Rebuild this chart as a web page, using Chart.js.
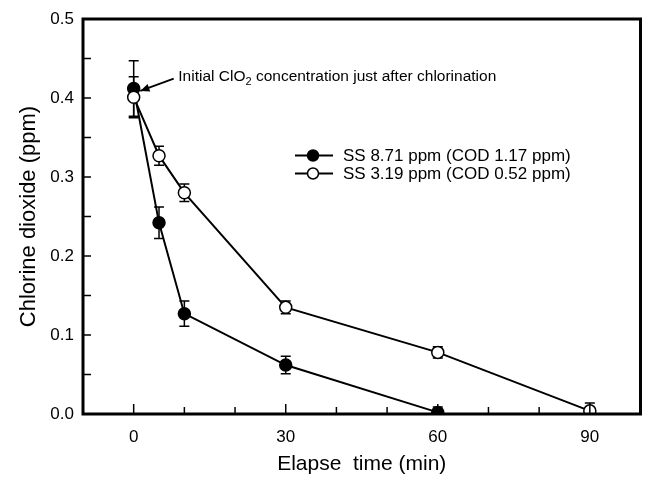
<!DOCTYPE html>
<html>
<head>
<meta charset="utf-8">
<script src="https://cdn.jsdelivr.net/npm/chart.js@4.4.0/dist/chart.umd.min.js"></script>
<style>
  html, body { margin: 0; padding: 0; background: #fff; }
  #wrap { width: 648px; height: 477px; }
</style>
</head>
<body>
<div id="wrap"><canvas id="chlorineChart"></canvas></div>
<script>
// values
const timeHighSS = [0, 5, 10, 30, 60];
const clo2HighSS = [0.412, 0.242, 0.127, 0.062, 0.002];
const errHighSS  = [0.035, 0.020, 0.016, 0.011, 0.007];

const timeLowSS = [0, 5, 10, 30, 60, 90];
const clo2LowSS = [0.401, 0.327, 0.280, 0.135, 0.078, 0.004];
const errLowSS  = [0.026, 0.012, 0.011, 0.008, 0.007, 0.010];

const seriesLabels = ['SS 8.71 ppm (COD 1.17 ppm)', 'SS 3.19 ppm (COD 0.52 ppm)'];
const xTickLabels = [0, 30, 60, 90];
const yTickLabels = [0.0, 0.1, 0.2, 0.3, 0.4, 0.5];

const FONT = "'Liberation Sans', Arial, sans-serif";

function toPoints(xs, ys) {
    return xs.map((x, i) => ({ x: x, y: ys[i] }));
}

// error bars, drawn under the markers
const errorBars = {
    id: 'errorBars',
    beforeDatasetsDraw(chart) {
        const { ctx, scales: { x, y } } = chart;
        const errs = [errHighSS, errLowSS];
        ctx.save();
        ctx.strokeStyle = '#000';
        ctx.lineWidth = 1.5;
        chart.data.datasets.forEach((ds, d) => {
            ds.data.forEach((p, i) => {
                const px = x.getPixelForValue(p.x);
                const top = y.getPixelForValue(p.y + errs[d][i]);
                const bot = y.getPixelForValue(Math.max(p.y - errs[d][i], 0));
                ctx.beginPath();
                ctx.moveTo(px, top); ctx.lineTo(px, bot);
                ctx.moveTo(px - 5, top); ctx.lineTo(px + 5, top);
                ctx.moveTo(px - 5, bot); ctx.lineTo(px + 5, bot);
                ctx.stroke();
            });
        });
        ctx.restore();
    }
};

// box frame with inward ticks
const frame = {
    id: 'frame',
    afterDraw(chart) {
        const { ctx, chartArea: a, scales: { x, y } } = chart;
        ctx.save();
        ctx.strokeStyle = '#000';
        ctx.lineWidth = 1.5;
        x.ticks.forEach(t => {
            const px = x.getPixelForValue(t.value);
            const len = xTickLabels.includes(t.value) ? 10 : 7;
            ctx.beginPath();
            ctx.moveTo(px, a.bottom); ctx.lineTo(px, a.bottom - len);
            ctx.stroke();
        });
        y.ticks.forEach(t => {
            const py = y.getPixelForValue(t.value);
            ctx.beginPath();
            ctx.moveTo(a.left, py); ctx.lineTo(a.left + 8, py);
            ctx.stroke();
        });
        ctx.lineWidth = 3;
        ctx.strokeRect(a.left, a.top, a.right - a.left, a.bottom - a.top);
        ctx.restore();
    }
};

// legend with line + marker, and the arrow note
const notes = {
    id: 'notes',
    afterDraw(chart) {
        const { ctx, scales: { x, y } } = chart;
        ctx.save();
        ctx.fillStyle = '#000';
        ctx.strokeStyle = '#000';

        // legend
        const lx = 295, ly = [155.5, 173.5];
        chart.data.datasets.forEach((ds, d) => {
            ctx.lineWidth = 2;
            ctx.beginPath();
            ctx.moveTo(lx, ly[d]); ctx.lineTo(lx + 38, ly[d]);
            ctx.stroke();
            ctx.beginPath();
            ctx.arc(lx + 18, ly[d], 5.5, 0, Math.PI * 2);
            ctx.fillStyle = ds.pointBackgroundColor;
            ctx.fill();
            ctx.lineWidth = 1.5;
            ctx.stroke();
            ctx.fillStyle = '#000';
            ctx.font = '17px ' + FONT;
            ctx.textBaseline = 'middle';
            ctx.fillText(ds.label, lx + 48, ly[d] + 1);
        });

        // annotation
        const tx = x.getPixelForValue(8.8), ty = y.getPixelForValue(0.427);
        ctx.font = '15.5px ' + FONT;
        ctx.textBaseline = 'middle';
        let s = 'Initial ClO';
        ctx.fillText(s, tx, ty);
        let w = ctx.measureText(s).width;
        ctx.font = '11px ' + FONT;
        ctx.fillText('2', tx + w, ty + 5);
        w += ctx.measureText('2').width;
        ctx.font = '15.5px ' + FONT;
        ctx.fillText(' concentration just after chlorination', tx + w, ty);

        const x0 = x.getPixelForValue(7.9), y0 = y.getPixelForValue(0.4245);
        const x1 = x.getPixelForValue(1.3), y1 = y.getPixelForValue(0.409);
        ctx.lineWidth = 1.8;
        ctx.beginPath();
        ctx.moveTo(x0, y0); ctx.lineTo(x1, y1);
        ctx.stroke();
        const ang = Math.atan2(y1 - y0, x1 - x0);
        ctx.beginPath();
        ctx.moveTo(x1, y1);
        ctx.lineTo(x1 - 10 * Math.cos(ang - 0.4), y1 - 10 * Math.sin(ang - 0.4));
        ctx.lineTo(x1 - 10 * Math.cos(ang + 0.4), y1 - 10 * Math.sin(ang + 0.4));
        ctx.closePath();
        ctx.fill();
        ctx.restore();
    }
};

new Chart(document.getElementById('chlorineChart'), {
    type: 'scatter',
    data: {
        datasets: [
            {
                label: seriesLabels[0],
                data: toPoints(timeHighSS, clo2HighSS),
                showLine: true,
                borderColor: '#000',
                borderWidth: 2,
                pointRadius: 6,
                pointBackgroundColor: '#000',
                pointBorderColor: '#000',
                pointBorderWidth: 1.5,
                order: 2
            },
            {
                label: seriesLabels[1],
                data: toPoints(timeLowSS, clo2LowSS),
                showLine: true,
                borderColor: '#000',
                borderWidth: 2,
                pointRadius: 6,
                pointBackgroundColor: '#fff',
                pointBorderColor: '#000',
                pointBorderWidth: 1.5,
                order: 1
            }
        ]
    },
    options: {
        responsive: true,
        maintainAspectRatio: false,
        animation: false,
        layout: { padding: { top: 19, right: -3, left: 16, bottom: 0 } },
        plugins: {
            legend: { display: false },
            tooltip: { enabled: false }
        },
        scales: {
            x: {
                type: 'linear',
                min: -10,
                max: 100,
                grid: { display: false, drawTicks: false },
                border: { display: false },
                ticks: {
                    stepSize: 10,
                    padding: 13,
                    color: '#000',
                    font: { family: FONT, size: 17 },
                    autoSkip: false,
                    maxRotation: 0,
                    callback: v => xTickLabels.includes(v) ? String(v) : ''
                },
                title: {
                    display: true,
                    text: 'Elapse  time (min)',
                    color: '#000',
                    font: { family: FONT, size: 21 },
                    padding: { top: 4, bottom: 0 }
                },
                afterFit(scale) {
                    scale.height = 63;
                    scale.paddingLeft = 0;
                    scale.paddingRight = 0;
                }
            },
            y: {
                min: 0,
                max: 0.5,
                grid: { display: false, drawTicks: false },
                border: { display: false },
                ticks: {
                    stepSize: 0.05,
                    padding: 9,
                    color: '#000',
                    font: { family: FONT, size: 17 },
                    autoSkip: false,
                    callback: v => {
                        const r = Math.round(v * 100) / 100;
                        return yTickLabels.some(t => Math.abs(t - r) < 1e-6) ? r.toFixed(1) : '';
                    }
                },
                title: {
                    display: true,
                    text: 'Chlorine dioxide (ppm)',
                    color: '#000',
                    font: { family: FONT, size: 22 },
                    padding: 0
                },
                afterFit(scale) {
                    scale.width = 67;
                    scale.paddingTop = 0;
                    scale.paddingBottom = 0;
                }
            }
        }
    },
    plugins: [errorBars, frame, notes]
});
</script>
</body>
</html>
